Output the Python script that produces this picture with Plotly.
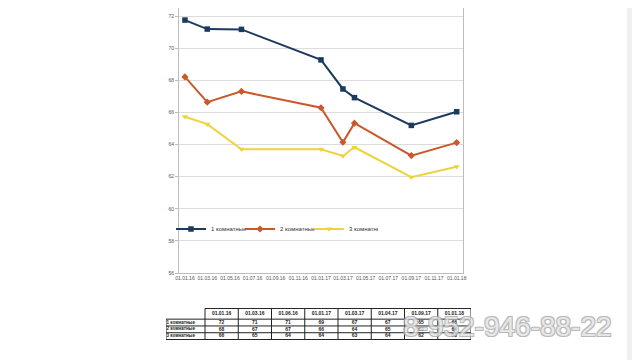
import plotly.graph_objects as go

# ---- data ----
dates = ["2016-01-01", "2016-03-01", "2016-06-01", "2017-01-01",
         "2017-03-01", "2017-04-01", "2017-09-01", "2018-01-01"]
date_labels = ["01.01.16", "01.03.16", "01.06.16", "01.01.17",
               "01.03.17", "01.04.17", "01.09.17", "01.01.18"]
series_names = ["1 комнатные", "2 комнатные", "3 комнатные"]
room1 = [71.75, 71.19, 71.17, 69.27, 67.46, 66.92, 65.19, 66.04]
room2 = [68.21, 66.64, 67.31, 66.29, 64.14, 65.33, 63.31, 64.12]
room3 = [65.73, 65.27, 63.71, 63.71, 63.29, 63.83, 61.97, 62.62]
table1 = [72, 71, 71, 69, 67, 67, 65, 66]
table2 = [68, 67, 67, 66, 64, 65, 63, 64]
table3 = [66, 65, 64, 64, 63, 64, 62, 63]
table_rows = [table1, table2, table3]
watermark = "8-952-946-88-22"

colors = ["#1b3a5e", "#c9582b", "#eed23e"]
symbols = ["square", "diamond", "triangle-down"]

# page is drawn with an 8px body margin; the figure fills the rest
OFF = 8
W, H = 640 - OFF, 360 - OFF
def px_x(p):
    return (p - OFF) / W
def px_y(p):
    return 1 - (p - OFF) / H

fig = go.Figure()
for name, vals, c, s in zip(series_names, [room1, room2, room3], colors, symbols):
    fig.add_trace(go.Scatter(
        x=dates, y=vals, name=name, mode="lines+markers",
        line=dict(color=c, width=2),
        marker=dict(symbol=s, size=5.5, color=c),
        xaxis="x", yaxis="y",
    ))

# ---- table drawn on its own hidden axes (units ~ px) ----
first_w, col_w = 39, 33.25
head_h, row_h = 11, 7
col_edges = [0, first_w] + [first_w + col_w * (i + 1) for i in range(len(date_labels))]
row_edges = [0, head_h] + [head_h + row_h * (i + 1) for i in range(len(table_rows))]
total_w, total_h = col_edges[-1], row_edges[-1]

lx, ly = [], []
for j, y in enumerate(row_edges):
    x0 = first_w if j == 0 else 0
    lx += [x0, total_w, None]
    ly += [y, y, None]
for i, x in enumerate(col_edges):
    y0 = head_h if i == 0 else 0
    lx += [x, x, None]
    ly += [y0, total_h, None]
fig.add_trace(go.Scatter(
    x=lx, y=ly, mode="lines", line=dict(color="#222", width=1),
    hoverinfo="skip", showlegend=False, xaxis="x2", yaxis="y2",
))

centers_x = [(col_edges[i + 1] + col_edges[i + 2]) / 2 for i in range(len(date_labels))]
fig.add_trace(go.Scatter(
    x=centers_x, y=[head_h / 2] * len(date_labels),
    text=["<b>%s</b>" % d for d in date_labels], mode="text",
    textfont=dict(family="Liberation Sans, Arial, sans-serif", size=5, color="#222"),
    hoverinfo="skip", showlegend=False, xaxis="x2", yaxis="y2",
))
for r, (lab, vals) in enumerate(zip(series_names, table_rows)):
    yc = (row_edges[r + 1] + row_edges[r + 2]) / 2
    fig.add_trace(go.Scatter(
        x=centers_x, y=[yc] * len(vals), text=["<b>%d</b>" % v for v in vals],
        mode="text",
        textfont=dict(family="Liberation Sans, Arial, sans-serif", size=5, color="#222"),
        hoverinfo="skip", showlegend=False, xaxis="x2", yaxis="y2",
    ))
    fig.add_trace(go.Scatter(
        x=[0.5], y=[yc], text=["<b>%s</b>" % lab], mode="text",
        textposition="middle right",
        textfont=dict(family="Liberation Sans, Arial, sans-serif", size=4.5, color="#222"),
        hoverinfo="skip", showlegend=False, xaxis="x2", yaxis="y2",
    ))

tick_font = dict(family="Liberation Sans, Arial, sans-serif", size=5, color="#555")

fig.update_layout(
    width=W, height=H,
    margin=dict(l=0, r=0, t=0, b=0),
    paper_bgcolor="white",
    plot_bgcolor="white",
    showlegend=True,
    xaxis=dict(
        domain=[px_x(179), px_x(463)],
        type="date",
        range=["2015-12-16", "2018-01-18"],
        tick0="2016-01-01", dtick="M2",
        tickformat="%d.%m.%y", tickangle=0,
        tickfont=tick_font,
        showgrid=False, zeroline=False,
        showline=True, linecolor="#bdbdbd", linewidth=1, mirror=True,
        ticks="", automargin=False,
        anchor="y",
    ),
    yaxis=dict(
        domain=[px_y(273), 1],
        range=[56, 73 - OFF / 16.06],
        dtick=2, tick0=56,
        tickfont=tick_font,
        showgrid=True, gridcolor="#dcdcdc", gridwidth=1,
        zeroline=False,
        showline=True, linecolor="#bdbdbd", linewidth=1, mirror=True,
        ticks="outside", ticklen=3, tickcolor="#bdbdbd",
        automargin=False,
        anchor="x",
    ),
    xaxis2=dict(
        domain=[px_x(166), px_x(471)], range=[0, total_w],
        visible=False, fixedrange=True, anchor="y2",
    ),
    yaxis2=dict(
        domain=[px_y(340), px_y(308)], range=[total_h + 0.5, -0.5],
        visible=False, fixedrange=True, anchor="x2",
    ),
    legend=dict(
        orientation="h",
        x=px_x(171), xanchor="left",
        y=px_y(229), yanchor="middle",
        bgcolor="rgba(0,0,0,0)",
        font=dict(family="Liberation Sans, Arial, sans-serif", size=6, color="#333"),
        itemwidth=30,
        entrywidth=24, entrywidthmode="pixels",
    ),
    shapes=[
        dict(type="rect", xref="paper", yref="paper", x0=px_x(627), x1=1, y0=0, y1=1,
             fillcolor="#f0f0f0", line=dict(width=0), layer="below"),
    ],
    annotations=[
        dict(
            text=watermark, xref="paper", yref="paper",
            x=px_x(507), y=px_y(326), xanchor="center", yanchor="middle",
            showarrow=False, opacity=0.8,
            font=dict(family="Liberation Sans, Arial, sans-serif",
                      size=28, color="#e2e2e2",
                      shadow="1px 1px 0 #a8a8a8, -1px -1px 0 #a8a8a8, 1px -1px 0 #a8a8a8, -1px 1px 0 #a8a8a8"),
        )
    ],
)

fig.write_html("out.html")
